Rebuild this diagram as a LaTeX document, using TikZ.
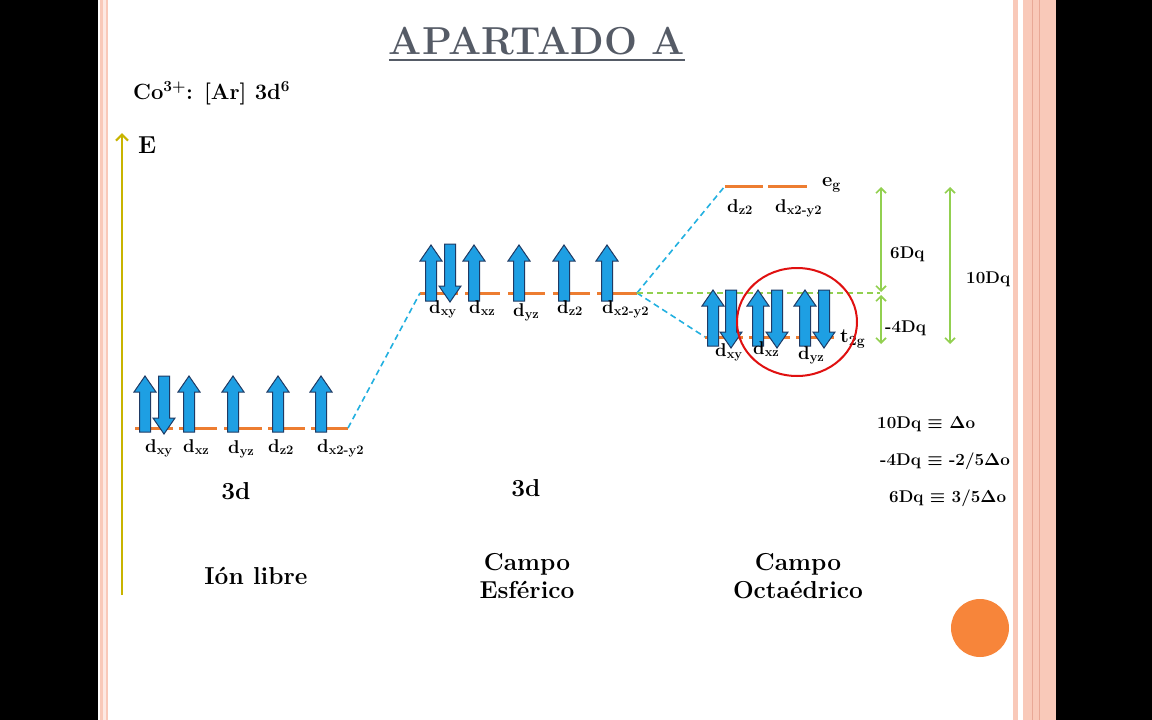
\documentclass[tikz,border=0pt]{standalone}
\usepackage{fontspec}
\usetikzlibrary{arrows.meta}
\definecolor{pinkb}{HTML}{F9C9B9}
\definecolor{pinkd}{HTML}{E9A896}
\definecolor{titlegray}{HTML}{555B66}
\definecolor{lvl}{HTML}{ED7D31}
\definecolor{cyanl}{HTML}{22B0E0}
\definecolor{spinfill}{HTML}{1E9FE3}
\definecolor{spinline}{HTML}{1F3A64}
\definecolor{greenl}{HTML}{92D050}
\definecolor{axisy}{HTML}{C8B400}
\definecolor{redc}{HTML}{E01010}
\definecolor{dotor}{HTML}{F7853A}
\newcommand{\dorb}[1]{d\textsubscript{#1}}
\tikzset{
  txt/.style={font=\fontsize{18.5}{21}\selectfont\bfseries, inner sep=0pt},
  big/.style={font=\fontsize{24.5}{28}\selectfont\bfseries, inner sep=0pt},
  eqn/.style={font=\fontsize{17}{19}\selectfont\bfseries\boldmath, inner sep=0pt, anchor=base west},
  orb/.style={txt, anchor=base west},
  dq/.style={font=\fontsize{17}{19}\selectfont\bfseries, inner sep=0pt, anchor=base west},
  level/.style={lvl, line width=3pt},
  link/.style={cyanl, line width=1.6pt, dash pattern=on 6pt off 4pt},
  gdash/.style={greenl, line width=1.6pt, dash pattern=on 6pt off 4pt},
  garrow/.style={greenl, line width=1.6pt, {Straight Barb[length=5pt,width=10pt]}-{Straight Barb[length=5pt,width=10pt]}},
  upspin/.pic={\filldraw[fill=spinfill, draw=spinline, line width=1pt]
     (-5.5,0) -- (-5.5,-40) -- (-11,-40) -- (0,-56) -- (11,-40) -- (5.5,-40) -- (5.5,0) -- cycle;},
  downspin/.pic={\filldraw[fill=spinfill, draw=spinline, line width=1pt]
     (-5.5,0) -- (5.5,0) -- (5.5,42) -- (11,42) -- (0,58) -- (-11,42) -- (-5.5,42) -- cycle;}
}
\begin{document}
\begin{tikzpicture}[x=1pt,y=-1pt]
\useasboundingbox (0,0) rectangle (1152,720);
% frame
\fill[white] (0,0) rectangle (1152,720);
\fill[black] (0,0) rectangle (98,720);
\fill[black] (1056,0) rectangle (1152,720);
\fill[pinkb] (100,0) rectangle (108,720);
\fill[white!60!pinkb] (102.5,0) rectangle (105.5,720);
\fill[pinkb] (1013,0) rectangle (1018,720);
\fill[pinkb] (1023,0) rectangle (1056,720);
\draw[pinkd, line width=0.6pt] (1032,0) -- (1032,720);
\draw[pinkd, line width=0.6pt] (1039,0) -- (1039,720);

% title
\node[font=\fontsize{39}{44}\selectfont\bfseries, text=titlegray, inner sep=0pt, anchor=base] (title) at (537,54) {APARTADO A};
\draw[titlegray, line width=1.6pt] ([yshift=-6pt]title.base west) -- ([yshift=-6pt]title.base east);

\node[font=\fontsize{22}{26}\selectfont\bfseries, inner sep=0pt, anchor=base west] (config) at (133,99) {Co\textsuperscript{3+}: [Ar] 3d\textsuperscript{6}};

% energy axis
\coordinate (ax0) at (122,595);
\coordinate (ax1) at (122,133);
\draw[axisy, line width=2.2pt, -{Straight Barb[length=6pt,width=12pt]}] (ax0) -- (ax1);
\node[big, anchor=base west] (E) at (138,153) {E};

% ---- free ion levels
\coordinate (L0) at (135,428);
\coordinate (L1) at (348,428);
\foreach \a/\b in {135/173,179/217,224/262,268/305,311/348}
  \draw[level] (\a,428) -- (\b,428);
\pic at (145,432) {upspin};
\pic at (164,376) {downspin};
\foreach \x in {189,233,278,321} \pic at (\x,432) {upspin};
\node[orb] (fa) at (145,452) {\dorb{xy}};
\node[orb] (fb) at (183,452) {\dorb{xz}};
\node[orb] (fc) at (228,453) {\dorb{yz}};
\node[orb] (fd) at (268,452) {\dorb{z2}};
\node[orb] (fe) at (317,452) {\dorb{x2-y2}};
\node[big, anchor=base] (f3d) at (236,499) {3d};
\node[big, anchor=base] (fname) at (256,584) {Ión libre};

% ---- spherical field
\coordinate (S0) at (420,293);
\coordinate (S1) at (637,293);
\foreach \a/\b in {420/458,465/500,508/545,553/590,597/637}
  \draw[level] (\a,293) -- (\b,293);
\pic at (431,301) {upspin};
\pic at (450,244) {downspin};
\foreach \x in {474,519,564,607} \pic at (\x,301) {upspin};
\node[orb] (sa) at (429,313) {\dorb{xy}};
\node[orb] (sb) at (469,313) {\dorb{xz}};
\node[orb] (sc) at (513,316) {\dorb{yz}};
\node[orb] (sd) at (557,313) {\dorb{z2}};
\node[orb] (se) at (602,313) {\dorb{x2-y2}};
\node[big, anchor=base] (s3d) at (526,496) {3d};
\node[big, align=center, anchor=base] (sname) at (527,598) {Campo\\Esférico};

\draw[link] (L1) -- (S0);

% ---- octahedral field
\coordinate (E0) at (725,186);
\coordinate (T0) at (705,337);
\coordinate (G1) at (880,293);
\draw[level] (725,186) -- (763,186);
\draw[level] (768,186) -- (807,186);
\draw[level] (705,337) -- (743,337);
\draw[level] (749,337) -- (790,337);
\draw[level] (796,337) -- (834,337);
\draw[link] (S1) -- (E0);
\draw[link] (S1) -- (T0);
\draw[gdash] (S1) -- (G1);

\pic at (713,346) {upspin};
\pic at (731,290) {downspin};
\pic at (758,346) {upspin};
\pic at (777,290) {downspin};
\pic at (805,346) {upspin};
\pic at (824,290) {downspin};

\node[orb] (oa) at (727,212) {\dorb{z2}};
\node[orb] (ob) at (775,212) {\dorb{x2-y2}};
\node[font=\fontsize{20}{22}\selectfont\bfseries, inner sep=0pt, anchor=base west] (eg) at (822,186) {e\textsubscript{g}};
\node[orb] (oc) at (715,356) {\dorb{xy}};
\node[orb] (od) at (753,354) {\dorb{xz}};
\node[orb] (oe) at (798,359) {\dorb{yz}};
\node[font=\fontsize{20}{22}\selectfont\bfseries, inner sep=0pt, anchor=base west] (t2g) at (840,342) {t\textsubscript{2g}};

\draw[redc, line width=2pt] (797,322) ellipse [x radius=60, y radius=54];

% splitting arrows
\coordinate (A1) at (881,187);
\coordinate (A2) at (881,292);
\coordinate (A3) at (881,295);
\coordinate (A4) at (881,344);
\coordinate (B1) at (950,187);
\coordinate (B2) at (950,344);
\draw[garrow] (A1) -- (A2);
\draw[garrow] (A3) -- (A4);
\draw[garrow] (B1) -- (B2);
\node[dq] (l6) at (890,258) {6Dq};
\node[dq] (l4) at (885,332) {-4Dq};
\node[dq] (l10) at (966,283) {10Dq};
\node[big, align=center, anchor=base] (oname) at (798,598) {Campo\\Octaédrico};

% equivalences
\node[eqn] (q1) at (877,428) {10Dq $\equiv$ $\Delta$o};
\node[eqn] (q2) at (880,465) {-4Dq $\equiv$ -2/5$\Delta$o};
\node[eqn] (q3) at (889,502) {6Dq $\equiv$ 3/5$\Delta$o};

\fill[dotor] (980,628) circle [radius=29];
\end{tikzpicture}
\end{document}
